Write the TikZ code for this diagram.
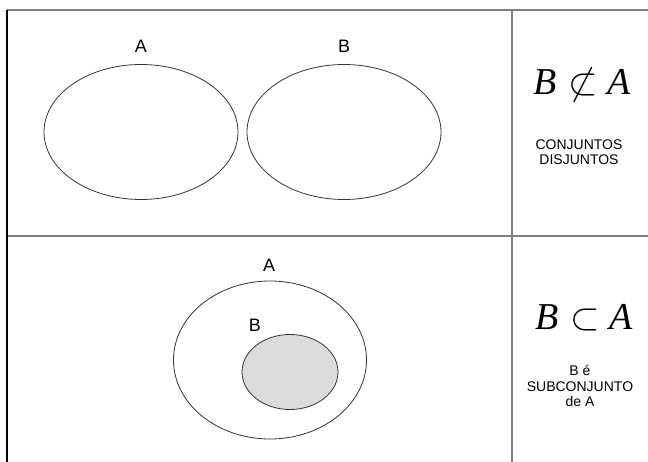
\RequirePackage{fix-cm}
\documentclass[tikz,border=0pt]{standalone}
\usepackage{fontspec}
\setmainfont{Liberation Sans}
\newfontfamily\tms{Liberation Serif}
\usetikzlibrary{shapes.geometric}
\begin{document}
\begin{tikzpicture}[x=1pt,y=-1pt,
  rule/.style={draw=black!50,line width=2.6pt},
  setshape/.style={draw=black!80,line width=0.8pt,ellipse,inner sep=0pt},
  setname/.style={font=\fontsize{18}{18}\selectfont,inner sep=0pt},
  relation/.style={font=\fontsize{38}{38}\selectfont,inner sep=0pt},
  caption/.style={font=\fontsize{14}{15.5}\selectfont,align=center,inner sep=0pt}]
  \useasboundingbox (0,0) rectangle (648,462);
  % table frame
  \coordinate (tl) at (7,10);
  \coordinate (tr) at (648,10);
  \coordinate (bl) at (7,462);
  \coordinate (ml) at (7,236);
  \coordinate (mr) at (648,236);
  \coordinate (vt) at (512,10);
  \coordinate (vb) at (512,462);
  \draw[rule] (tl) -- (tr);
  \draw[rule] (ml) -- (mr);
  \draw[rule] (vt) -- (vb);
  \draw[black,line width=1.6pt] (tl) -- (bl);
  % disjoint sets
  \node[setshape,minimum width=194pt,minimum height=135pt] (A1) at (141,132) {};
  \node[setshape,minimum width=194pt,minimum height=135pt] (B1) at (344,132) {};
  \node[setname] (lA1) at (141,46) {A};
  \node[setname] (lB1) at (344,46) {B};
  % subset
  \node[setshape,minimum width=193pt,minimum height=158pt] (A2) at (270,360) {};
  \node[setshape,fill=black!14,minimum width=96pt,minimum height=75pt] (B2) at (290,372) {};
  \node[setname] (lA2) at (269,265) {A};
  \node[setname] (lB2) at (255,325) {B};
  % relations
  \node[relation] (r1) at (582,85) {{\tms\itshape B}\hspace{12pt}$\not\subset$\hspace{10pt}{\tms\itshape A}};
  \node[caption] (c1) at (579,152) {CONJUNTOS\\DISJUNTOS};
  \node[relation] (r2) at (584,318) {{\tms\itshape B}\hspace{12pt}$\subset$\hspace{10pt}{\tms\itshape A}};
  \node[caption] (c2) at (580,386) {B é\\SUBCONJUNTO\\de A};
\end{tikzpicture}
\end{document}
